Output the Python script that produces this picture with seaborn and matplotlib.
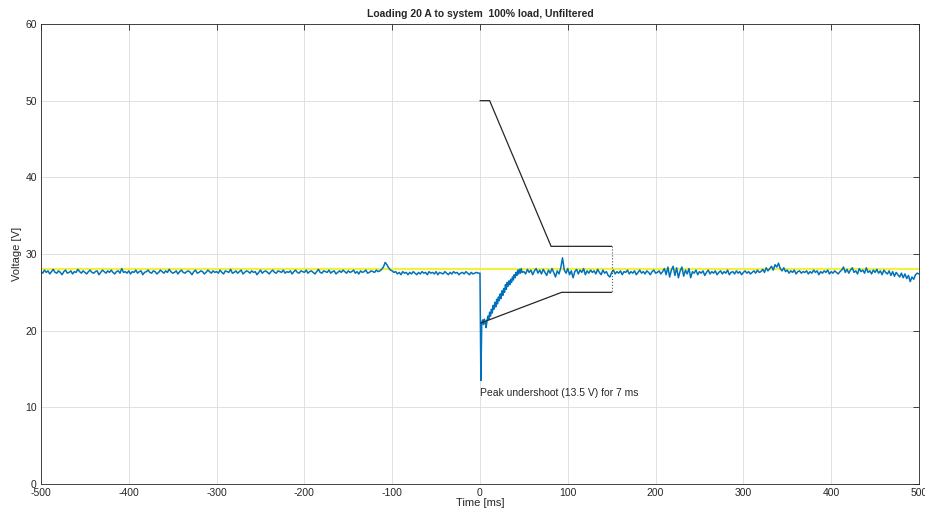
import numpy as np
import pandas as pd
import seaborn as sb
import matplotlib
matplotlib.use("Agg")
import matplotlib.pyplot as plt

# measured bus voltage, before the load step (t = -500 .. -2 ms, 2 ms step)
pre_t = np.arange(-500, 0, 2)
pre_v = [27.7, 27.5, 27.9, 27.6, 27.8, 27.4, 27.7, 28.0, 27.6, 27.5,
         27.8, 27.6, 27.3, 27.7, 27.9, 27.5, 27.6, 27.8, 27.4, 27.7,
         27.6, 28.0, 27.7, 27.5, 27.8, 27.6, 27.4, 27.7, 27.9, 27.6,
         27.5, 27.7, 27.8, 27.3, 27.6, 27.9, 27.7, 27.5, 27.8, 27.6,
         27.9, 27.6, 27.4, 27.7, 27.8, 27.5, 28.1, 27.6, 27.7, 27.5,
         27.8, 27.4, 27.7, 27.6, 27.9, 27.5, 27.7, 27.8, 27.3, 27.6,
         27.7, 27.9, 27.6, 27.5, 27.8, 27.7, 27.4, 27.6, 27.9, 27.7,
         27.5, 27.8, 27.6, 28.0, 27.7, 27.5, 27.6, 27.8, 27.4, 27.7,
         27.9, 27.6, 27.5, 27.7, 27.8, 27.6, 27.3, 27.7, 27.9, 27.5,
         27.6, 27.8, 27.7, 27.4, 27.6, 27.9, 27.7, 27.5, 27.8, 27.6,
         27.7, 27.5, 27.9, 27.6, 27.4, 27.8, 27.7, 27.6, 28.0, 27.5,
         27.6, 27.8, 27.5, 27.7, 27.9, 27.4, 27.6, 27.8, 27.7, 27.5,
         27.8, 27.6, 27.7, 27.3, 27.6, 27.9, 27.5, 27.7, 27.8, 27.6,
         27.4, 27.7, 27.9, 27.6, 27.5, 27.8, 27.7, 27.6, 27.9, 27.5,
         27.7, 27.6, 27.8, 27.4, 27.7, 27.9, 27.6, 27.5, 27.8, 27.7,
         27.6, 27.9, 27.5, 27.7, 27.8, 27.6, 27.4, 27.7, 28.0, 27.6,
         27.5, 27.8, 27.7, 27.6, 27.9, 27.5, 27.7, 27.8, 27.4, 27.6,
         27.8, 27.6, 27.9, 27.7, 27.5, 27.8, 27.6, 27.7, 27.9, 27.5,
         27.7, 27.4, 27.8, 27.6, 27.7, 27.9, 27.5, 27.6, 27.8, 27.7,
         27.6, 27.9, 27.7, 27.8, 28.0, 28.3, 28.9, 28.6, 28.2, 27.9,
         27.8, 27.6, 27.7, 27.4, 27.6, 27.3, 27.7, 27.5, 27.6, 27.3,
         27.6, 27.4, 27.7, 27.5, 27.3, 27.6, 27.4, 27.7, 27.5, 27.6,
         27.3, 27.7, 27.5, 27.6, 27.4, 27.7, 27.3, 27.6, 27.5, 27.4,
         27.7, 27.5, 27.3, 27.6, 27.4, 27.7, 27.5, 27.6, 27.3, 27.5,
         27.6, 27.4, 27.7, 27.5, 27.3, 27.6, 27.4, 27.5, 27.6, 27.5]

# transient (t = 0 .. 48 ms, 1 ms step)
step_t = np.arange(0, 49, 1)
step_v = [27.5, 13.5, 21.0, 21.4, 20.8, 21.5, 21.0, 20.4, 21.3, 21.9,
          21.5, 22.4, 21.9, 22.8, 22.3, 23.3, 22.8, 23.7, 23.1, 24.1,
          23.5, 24.4, 23.9, 24.8, 24.2, 25.2, 24.6, 25.5, 25.0, 26.0,
          25.4, 26.3, 25.8, 26.5, 26.0, 26.7, 26.3, 27.0, 26.6, 27.3,
          26.9, 27.6, 27.2, 27.9, 27.4, 28.0, 27.5, 28.1, 27.6]

# after recovery (t = 50 .. 500 ms, 2 ms step)
post_t = np.arange(50, 501, 2)
post_v = [27.7, 27.4, 28.0, 27.6, 27.9, 27.3, 27.8, 28.1, 27.5, 27.9,
          27.4, 28.0, 27.6, 27.2, 27.9, 27.5, 28.1, 27.6, 27.0, 27.8,
          27.4, 28.2, 29.5, 27.9, 27.5, 28.1, 27.3, 27.8, 26.9, 27.7,
          28.0, 27.4, 27.9, 27.6, 28.1, 27.3, 27.8, 27.5, 27.9, 27.6,
          27.8, 27.4, 28.0, 27.6, 27.3, 27.9, 27.5, 27.7, 27.2, 27.0,
          27.6, 27.9, 27.4, 27.7, 27.5, 27.8, 27.3, 27.7, 27.6, 27.9,
          27.4, 27.7, 27.5, 27.8, 27.3, 27.6, 27.9, 27.5, 27.7, 27.4,
          27.8, 27.6, 27.3, 27.7, 27.9, 27.5, 27.6, 27.8, 27.4, 27.7,
          28.1, 27.3, 28.3, 27.0, 27.9, 28.4, 27.2, 28.2, 26.9, 27.8,
          28.3, 27.1, 27.9, 27.4, 28.1, 26.9, 27.7, 27.5, 27.9, 27.3,
          27.7, 27.5, 27.8, 27.2, 27.6, 27.9, 27.4, 27.7, 27.5, 27.8,
          27.3, 27.6, 27.8, 27.4, 27.7, 27.5, 27.9, 27.3, 27.6, 27.7,
          27.4, 27.8, 27.5, 27.7, 27.3, 27.6, 27.8, 27.5, 27.7, 27.4,
          27.6, 27.8, 27.5, 27.9, 27.6, 27.7, 28.0, 27.6, 28.2, 27.8,
          28.1, 28.4, 27.9, 28.6, 28.3, 28.8, 28.1, 27.8, 28.2, 27.7,
          27.9, 27.5, 27.8, 27.6, 27.9, 27.4, 27.7, 27.8, 27.5, 27.7,
          27.6, 27.8, 27.4, 27.7, 27.5, 27.9, 27.6, 27.8, 27.3, 27.7,
          27.5, 27.8, 27.6, 27.9, 27.4, 27.7, 27.5, 27.8, 27.6, 27.4,
          27.7, 27.9, 28.3, 27.6, 28.0, 27.5, 27.9, 28.2, 27.6, 27.8,
          27.4, 28.1, 27.7, 27.9, 27.5, 28.2, 27.6, 27.8, 27.4, 27.9,
          27.6, 28.0, 27.5, 27.8, 27.3, 27.9, 27.6, 27.4, 27.8, 27.2,
          27.7, 27.1, 27.6, 27.3, 27.0, 27.5, 26.9, 27.4, 26.8, 27.2,
          26.4, 27.0, 26.7, 27.3, 27.5, 27.4]

# nominal voltage
nom_t = [-500, 500]
nom_v = [28, 28]

# transient limit envelope
upper_t = [0, 11, 81, 150]
upper_v = [50, 50, 31, 31]
lower_t = [1, 93, 150]
lower_v = [21, 25, 25]
edge_t = [150, 150]
edge_v = [31, 25]

sig = pd.DataFrame({'t': np.concatenate([pre_t, step_t, post_t]),
                    'v': pre_v + step_v + post_v})

sb.set_style("white")
plt.rcParams['font.family'] = ['Liberation Sans', 'DejaVu Sans']
plt.rcParams['axes.unicode_minus'] = False

fig = plt.figure(figsize=(9.25, 5.16), dpi=100)
ax = fig.add_axes([0.0443, 0.062, 0.9492, 0.8915])

# plotting
sb.lineplot(x=nom_t, y=nom_v, color='#f2f040', linewidth=1.6, ax=ax)
sb.lineplot(data=sig, x='t', y='v', color='#0072BD', linewidth=1.1,
            estimator=None, sort=False, ax=ax)
sb.lineplot(x=upper_t, y=upper_v, color='#262626', linewidth=0.9,
            estimator=None, sort=False, ax=ax)
sb.lineplot(x=lower_t, y=lower_v, color='#262626', linewidth=0.9,
            estimator=None, sort=False, ax=ax)
ax.plot(edge_t, edge_v, color='#555555', linewidth=0.8, linestyle=':')

ax.text(0, 11.9, 'Peak undershoot (13.5 V) for 7 ms', fontsize=7.5,
        va='center', ha='left', color='#262626')

ax.set_xlim(-500, 500)
ax.set_ylim(0, 60)
ax.set_xticks(range(-500, 501, 100))
ax.set_yticks(range(0, 61, 10))
ax.grid(True, color='#dcdcdc', linewidth=0.6)
ax.set_axisbelow(True)
ax.tick_params(direction='in', length=4, width=0.6, colors='#262626',
               labelsize=7.5, top=True, right=True, pad=3)
for s in ax.spines.values():
    s.set_color('#262626')
    s.set_linewidth(0.6)

# labeling
ax.set_title('Loading 20 A to system  100% load, Unfiltered', fontsize=7.5,
             fontweight='bold', pad=5)
ax.set_xlabel('Time [ms]', fontsize=8, labelpad=0)
ax.set_ylabel('Voltage [V]', fontsize=8, labelpad=2)

fig.savefig('out.png', dpi=100)
